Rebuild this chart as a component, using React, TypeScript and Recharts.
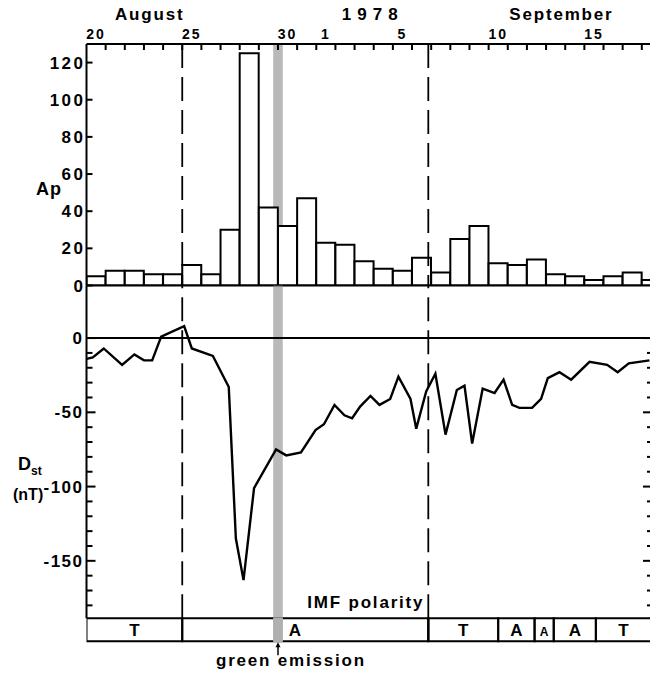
import { BarChart, Bar, LineChart, Line, XAxis, YAxis, ReferenceLine, ReferenceArea } from 'recharts';

const FONT = '"Liberation Sans", Arial, sans-serif';

// daily Ap, Aug 20 .. Sep 18 1978
const apDayNames = ['20', '21', '22', '23', '24', '25', '26', '27', '28', '29', '30', '31', '1', '2', '3', '4', '5', '6', '7', '8', '9', '10', '11', '12', '13', '14', '15', '16', '17', '18'];
const apValues = [5, 8, 8, 6, 6, 11, 6, 30, 125, 42, 32, 47, 23, 22, 13, 9, 8, 15, 7, 25, 32, 12, 11, 14, 6, 5, 3, 5, 7, 3];

// Dst (nT), time in days after Aug 20 00 UT
const dstTime = [0, 0.33, 0.9, 1.86, 2.5, 3.0, 3.43, 3.9, 5.1, 5.5, 6.6, 7.43, 7.8, 8.2, 8.75, 9.9, 10.43, 11.2, 11.96, 12.4, 12.95, 13.47, 13.87, 14.3, 14.83, 15.3, 15.86, 16.29, 16.92, 17.22, 17.74, 18.22, 18.75, 19.34, 19.74, 20.14, 20.69, 21.31, 21.78, 22.23, 22.61, 23.27, 23.74, 24.09, 24.7, 25.31, 26.27, 27.19, 27.74, 28.32, 29.4];
const dstValue = [-14, -13, -7, -18, -11, -15, -15, 1, 8, -7, -12, -33, -135, -163, -101, -75, -79, -77, -62, -58, -45, -52, -54, -46, -39, -45, -41, -26, -41, -61, -36, -24, -65, -35, -32, -71, -34, -37, -28, -45, -47, -47, -41, -27, -23, -28, -16, -18, -23, -17, -15];

// top axis labels
const dayTickLabels = ['20', '25', '30', '1', '5', '10', '15'];
const dayTickIndex = [0, 5, 10, 12, 16, 21, 26];
const monthLabels = ['August', '1978', 'September'];
const monthAt = [3.3, 14.95, 24.8];

// sector boundaries and green emission interval (days)
const sectorBoundaries = [5, 17.85];
const greenEmission = [9.75, 10.25];

// IMF polarity sectors
const imfFrom = [0, 5, 17.85, 21.5, 23.4, 24.4, 26.6];
const imfTo = [5, 17.85, 21.5, 23.4, 24.4, 26.6, 30];
const imfPolarity = ['T', 'A', 'T', 'A', 'A', 'A', 'T'];

const apTicks = [0, 20, 40, 60, 80, 100, 120];
const dstTicks = [0, -10, -20, -30, -40, -50, -60, -70, -80, -90, -100, -110, -120, -130, -140, -150, -160, -170, -180];

const X_MAX = 29.48;
const PLOT_LEFT = 86.5;
const PLOT_RIGHT = 651;
const CHART_W = 660;
const DAY_PX = (PLOT_RIGHT - PLOT_LEFT) / X_MAX;
const DST_MIN = -188.7;
const DST_MAX = 35.4;

const apData = apValues.map((ap, i) => ({ mid: i + 0.5, ap, day: apDayNames[i] }));
const dstData = dstTime.map((t, i) => ({ t, dst: dstValue[i] }));
const imfData = imfFrom.map((from, i) => ({ from, to: imfTo[i], pol: imfPolarity[i] }));
const imfRow: Record<string, any> = { name: 'IMF' };
imfData.forEach((s, i) => { imfRow[`s${i}`] = s.to - s.from; });
const greenRow = [{ name: 'IMF', before: greenEmission[0], band: greenEmission[1] - greenEmission[0] }];

const dayCenters = dayTickIndex.map((i) => i + 0.5);
const dayBounds = Array.from({ length: 29 }, (_, i) => i + 1);
const topTicks = [...dayBounds, ...dayCenters, ...monthAt];

const txt = { fontFamily: FONT, fontWeight: 700, fill: '#000' } as const;
const axisLine = { stroke: '#000', strokeWidth: 2 };
const BAND_FILL = '#8a8a8a';
const IMF_MARGIN = { top: 33.3, right: CHART_W - PLOT_RIGHT, bottom: 36.3, left: PLOT_LEFT };

function TopTick(props: any) {
  const { x, y, payload } = props;
  const v = payload.value;
  const di = dayCenters.indexOf(v);
  if (di >= 0) {
    return <text x={x} y={y - 5} textAnchor="middle" fontSize={14} letterSpacing={2} {...txt}>{dayTickLabels[di]}</text>;
  }
  const mi = monthAt.indexOf(v);
  if (mi >= 0) {
    return <text x={x} y={y - 24} textAnchor="middle" fontSize={17} letterSpacing={mi === 1 ? 6 : 1.8} {...txt}>{monthLabels[mi]}</text>;
  }
  return <line x1={x} x2={x} y1={y} y2={y + 6} stroke="#000" strokeWidth={2} />;
}

function ApTick(props: any) {
  const { x, y, payload } = props;
  return (
    <g>
      <line x1={x} x2={x + 6} y1={y} y2={y} stroke="#000" strokeWidth={2} />
      <text x={x - 1} y={y + 6} textAnchor="end" fontSize={17} letterSpacing={2.5} {...txt}>{payload.value}</text>
    </g>
  );
}

function DstTick(props: any) {
  const { x, y, payload } = props;
  const major = payload.value % 50 === 0;
  return (
    <g>
      <line x1={x} x2={x + (major ? 9 : 6)} y1={y} y2={y} stroke="#000" strokeWidth={2} />
      {major && <text x={x - 3} y={y + 6} textAnchor="end" fontSize={17} letterSpacing={1.5} {...txt}>{payload.value === 0 ? '0' : `-${-payload.value}`}</text>}
    </g>
  );
}

function RightTick(props: any) {
  const { x, y, payload } = props;
  const major = payload.value % 50 === 0;
  return <line x1={x - (major ? 8 : 4)} x2={x} y1={y} y2={y} stroke="#000" strokeWidth={2} />;
}

function ImfLabel(i: number) {
  return (props: any) => {
    const vb = props.viewBox || props;
    const { x, y, width, height } = vb;
    const seg = imfData[i];
    const narrow = seg.to - seg.from < 1.5;
    let cx = x + width / 2;
    if (seg.from < greenEmission[0] && seg.to > greenEmission[1]) cx = x + (greenEmission[1] - seg.from) * DAY_PX + 12;
    return (
      <text key={`imf-${i}`} x={cx} y={y + height / 2 + 6} textAnchor="middle" fontSize={narrow ? 12 : 17} {...txt}>{seg.pol}</text>
    );
  };
}

function PolarityLabel(props: any) {
  const { x, y } = props.viewBox;
  return <text x={x - 4} y={y - 10} textAnchor="end" fontSize={17} letterSpacing={1.8} {...txt}>IMF polarity</text>;
}

function GreenLabel(props: any) {
  const vb = props.viewBox || props;
  const { x, y, width, height } = vb;
  const cx = x + width / 2;
  const b = y + height;
  return (
    <g key="green">
      <rect x={x} y={y - 1} width={width} height={height + 2} fill="#b0b0b0" />
      <line x1={cx} x2={cx} y1={b + 4} y2={b + 14} stroke="#000" strokeWidth={1.5} />
      <polygon points={`${cx - 2.5},${b + 6} ${cx + 2.5},${b + 6} ${cx},${b + 1}`} fill="#000" />
      <text x={cx + 13} y={b + 25} textAnchor="middle" fontSize={17} letterSpacing={1.8} {...txt}>green emission</text>
    </g>
  );
}

export default function App() {
  return (
    <div style={{ position: 'absolute', left: 0, top: 0, width: 650, height: 678, overflow: 'hidden', background: '#fff' }}>
      {/* Ap panel */}
      <div style={{ position: 'absolute', left: 0, top: 0 }}>
        <BarChart width={CHART_W} height={300} data={apData} margin={{ top: 0, right: CHART_W - PLOT_RIGHT, bottom: 14.5, left: PLOT_LEFT - 40 }} barCategoryGap={0} barGap={0}>
          <XAxis type="number" dataKey="mid" orientation="top" domain={[0, X_MAX]} allowDataOverflow height={44} ticks={topTicks} interval={0} tickLine={false} tickSize={0} tickMargin={0} axisLine={axisLine} tick={TopTick} />
          <YAxis domain={[0, 130]} ticks={apTicks} interval={0} width={40} tickLine={false} tickSize={0} tickMargin={0} axisLine={axisLine} tick={ApTick} allowDataOverflow />
          <Bar dataKey="ap" fill="#fff" stroke="#000" strokeWidth={2} isAnimationActive={false} />
          <ReferenceArea x1={greenEmission[0]} x2={greenEmission[1]} fill={BAND_FILL} fillOpacity={0.6} stroke="none" />
          {sectorBoundaries.map((s) => (
            <ReferenceLine key={s} x={s} stroke="#000" strokeWidth={1.8} strokeDasharray="24 9" />
          ))}
          <ReferenceLine y={0} stroke="#000" strokeWidth={2} />
        </BarChart>
      </div>

      {/* Dst panel */}
      <div style={{ position: 'absolute', left: 0, top: 280 }}>
        <LineChart width={CHART_W} height={340} data={dstData} margin={{ top: 5.5, right: CHART_W - PLOT_RIGHT - 1, bottom: 1.7, left: PLOT_LEFT - 40 }}>
          <XAxis type="number" dataKey="t" domain={[0, X_MAX]} allowDataOverflow hide />
          <YAxis yAxisId="l" domain={[DST_MIN, DST_MAX]} ticks={dstTicks} interval={0} width={40} tickLine={false} tickSize={0} tickMargin={0} axisLine={axisLine} tick={DstTick} allowDataOverflow />
          <YAxis yAxisId="r" orientation="right" domain={[DST_MIN, DST_MAX]} ticks={dstTicks} interval={0} width={1} tickLine={false} tickSize={0} tickMargin={0} axisLine={axisLine} tick={RightTick} allowDataOverflow />
          <ReferenceArea yAxisId="l" x1={greenEmission[0]} x2={greenEmission[1]} fill={BAND_FILL} fillOpacity={0.6} stroke="none" />
          {sectorBoundaries.map((s) => (
            <ReferenceLine yAxisId="l" key={s} x={s} stroke="#000" strokeWidth={1.8} strokeDasharray="24 9" />
          ))}
          <ReferenceLine yAxisId="l" y={0} stroke="#000" strokeWidth={2} />
          <Line yAxisId="l" type="linear" dataKey="dst" stroke="#000" strokeWidth={2.4} dot={false} isAnimationActive={false} />
        </LineChart>
      </div>

      {/* IMF polarity bar */}
      <div style={{ position: 'absolute', left: 0, top: 585 }}>
        <BarChart layout="vertical" width={CHART_W} height={93} data={[imfRow]} margin={IMF_MARGIN} barCategoryGap={0} barGap={0}>
          <XAxis type="number" domain={[0, X_MAX]} allowDataOverflow hide />
          <YAxis type="category" dataKey="name" hide />
          {imfData.map((s, i) => (
            <Bar key={i} dataKey={`s${i}`} stackId="imf" fill="none" stroke="#000" strokeWidth={2} isAnimationActive={false} label={ImfLabel(i)} />
          ))}
          <ReferenceLine x={sectorBoundaries[1]} stroke="#000" strokeWidth={2} ifOverflow="visible" label={PolarityLabel} />
        </BarChart>
      </div>

      {/* green emission band across the IMF strip */}
      <div style={{ position: 'absolute', left: 0, top: 585 }}>
        <BarChart layout="vertical" width={CHART_W} height={93} data={greenRow} margin={IMF_MARGIN} barCategoryGap={0} barGap={0}>
          <XAxis type="number" domain={[0, X_MAX]} hide />
          <YAxis type="category" dataKey="name" hide />
          <Bar dataKey="before" stackId="g" fill="none" stroke="none" isAnimationActive={false} />
          <Bar dataKey="band" stackId="g" fill="#b0b0b0" stroke="none" isAnimationActive={false} label={GreenLabel} />
        </BarChart>
      </div>

      {/* axis titles */}
      <svg width={650} height={678} style={{ position: 'absolute', left: 0, top: 0, pointerEvents: 'none' }}>
        <text x={36} y={195} fontSize={18} letterSpacing={1} {...txt}>Ap</text>
        <text x={18} y={470} fontSize={18} {...txt}>D<tspan fontSize={12} dy={5}>st</tspan></text>
        <text x={13} y={500} fontSize={16} {...txt}>(nT)</text>
      </svg>
    </div>
  );
}
